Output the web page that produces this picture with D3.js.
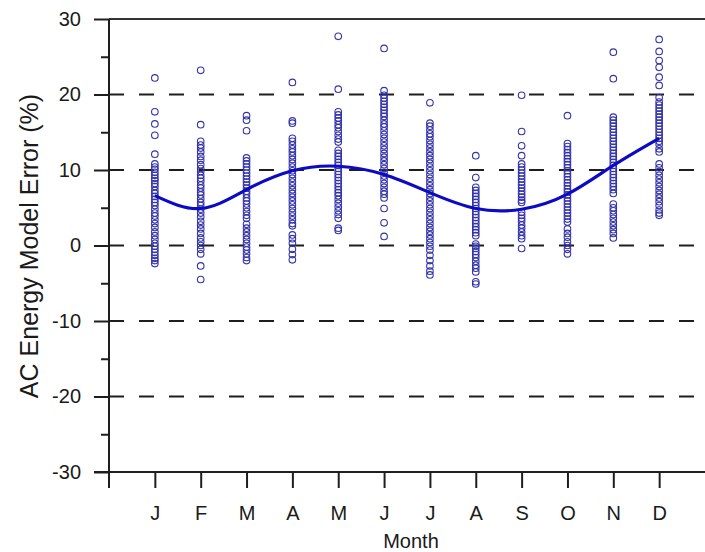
<!DOCTYPE html>
<html>
<head>
<meta charset="utf-8">
<script src="https://cdn.jsdelivr.net/npm/d3@7"></script>
<style>
  html, body { margin: 0; padding: 0; background: #ffffff; }
  svg { display: block; }
  text { font-family: "Liberation Sans", Arial, Helvetica, sans-serif; fill: #1a1a1a; }
</style>
</head>
<body>
<svg id="chart" width="705" height="552"></svg>
<script>
// ---------------- DATA ----------------
const monthLabels = ["J", "F", "M", "A", "M", "J", "J", "A", "S", "O", "N", "D"];
const yTickValues = [-30, -20, -10, 0, 10, 20, 30];
const yMinorTickValues = [-25, -15, -5, 5, 15, 25];
const gridValues = [-20, -10, 0, 10, 20];

const janErrors = [22.2, 17.7, 16.1, 14.6, 12.1, 10.8, 10.4, 10.1, 9.7, 9.3, 8.9, 8.6, 8.2, 7.8, 7.3, 6.9, 6.5, 6.1, 5.7, 5.3, 4.8, 4.3, 3.9, 3.4, 2.9, 2.4, 1.8, 1.3, 0.8, 0.3, -0.1, -0.5, -0.9, -1.3, -1.7, -2.0, -2.4];
const febErrors = [23.2, 16.0, 13.8, 13.3, 12.9, 12.4, 11.8, 11.3, 10.7, 10.2, 9.8, 9.3, 8.9, 8.5, 8.0, 7.6, 7.1, 6.7, 6.2, 5.7, 5.3, 4.8, 4.3, 3.8, 3.2, 2.7, 2.2, 1.6, 1.0, 0.5, 0.0, -0.5, -1.1, -2.7, -4.5];
const marErrors = [17.2, 16.6, 15.2, 11.6, 11.2, 10.8, 10.4, 10.0, 9.6, 9.2, 8.8, 8.4, 8.0, 7.6, 7.2, 6.8, 6.3, 5.9, 5.5, 5.0, 4.5, 4.0, 3.6, 2.8, 2.3, 1.8, 1.3, 0.8, 0.3, -0.2, -0.6, -1.1, -1.6, -2.0];
const aprErrors = [21.6, 16.5, 16.2, 14.2, 13.8, 13.3, 12.8, 12.4, 11.9, 11.4, 10.9, 10.4, 9.9, 9.4, 8.9, 8.4, 7.9, 7.4, 6.9, 6.4, 5.9, 5.4, 4.9, 4.4, 3.9, 3.4, 2.9, 2.6, 1.4, 0.9, 0.3, -0.5, -1.2, -1.9];
const mayErrors = [27.7, 20.7, 17.7, 17.3, 16.9, 16.5, 16.0, 15.6, 15.1, 14.6, 14.1, 13.7, 12.6, 12.2, 11.8, 11.4, 11.0, 10.6, 10.2, 9.8, 9.4, 9.0, 8.6, 8.2, 7.8, 7.4, 7.0, 6.6, 6.1, 5.6, 5.1, 4.6, 4.1, 3.6, 2.3, 2.0];
const junErrors = [26.1, 20.5, 19.9, 19.5, 19.1, 18.7, 18.3, 17.9, 17.5, 17.1, 16.6, 16.1, 15.7, 15.2, 14.7, 14.2, 13.7, 13.2, 12.7, 12.2, 11.7, 11.2, 10.7, 10.2, 9.7, 9.2, 8.7, 8.2, 7.7, 7.2, 6.8, 6.3, 4.9, 3.0, 1.2];
const julErrors = [18.9, 16.2, 15.8, 15.3, 14.8, 14.4, 13.9, 13.4, 12.9, 12.4, 11.9, 11.4, 10.9, 10.4, 9.9, 9.4, 8.9, 8.4, 7.9, 7.4, 6.9, 6.4, 5.9, 5.4, 4.9, 4.4, 3.9, 3.4, 2.9, 2.4, 1.9, 1.4, 0.9, 0.4, -0.1, -0.6, -1.3, -2.0, -2.7, -3.4, -3.9];
const augErrors = [11.9, 9.0, 7.7, 7.3, 6.9, 6.5, 6.1, 5.7, 5.3, 4.9, 4.5, 4.1, 3.7, 3.3, 2.9, 2.5, 2.1, 1.7, 1.3, 0.2, -0.1, -0.4, -0.8, -1.2, -1.6, -2.1, -2.6, -3.0, -3.5, -4.8, -5.1];
const sepErrors = [19.9, 15.1, 13.2, 11.9, 10.8, 10.4, 10.0, 9.6, 9.2, 8.8, 8.4, 8.0, 7.6, 7.2, 6.8, 6.4, 6.0, 5.7, 4.4, 4.0, 3.6, 3.2, 2.7, 2.3, 1.8, 1.3, 0.9, -0.4];
const octErrors = [17.2, 13.5, 13.1, 12.7, 12.3, 11.9, 11.5, 11.1, 10.7, 10.3, 9.9, 9.5, 9.1, 8.7, 8.3, 7.9, 7.5, 7.1, 6.7, 6.3, 5.9, 5.5, 5.1, 4.7, 4.3, 3.9, 3.5, 3.1, 2.2, 1.6, 1.1, 0.5, 0.0, -0.5, -1.1];
const novErrors = [25.6, 22.1, 17.0, 16.6, 16.2, 15.8, 15.4, 15.0, 14.6, 14.2, 13.8, 13.4, 13.0, 12.6, 12.2, 11.8, 11.4, 11.0, 10.6, 10.2, 9.8, 9.4, 9.0, 8.6, 8.2, 7.8, 7.4, 6.9, 5.5, 5.0, 4.6, 4.1, 3.6, 3.1, 2.6, 2.1, 1.6, 1.0];
const decErrors = [27.3, 25.7, 24.5, 23.6, 22.3, 21.2, 19.6, 19.0, 18.6, 18.2, 17.8, 17.4, 17.0, 16.6, 16.2, 15.8, 15.4, 15.0, 14.6, 14.2, 13.8, 13.4, 12.8, 12.4, 10.8, 10.3, 9.8, 9.3, 8.8, 8.3, 7.8, 7.3, 6.8, 6.3, 5.8, 5.3, 4.7, 4.3, 4.0];

const fitValues = [6.6, 4.9, 7.4, 9.9, 10.5, 9.4, 7.0, 4.9, 4.8, 6.8, 10.6, 14.2];

const monthlyErrors = [janErrors, febErrors, marErrors, aprErrors, mayErrors, junErrors,
                       julErrors, augErrors, sepErrors, octErrors, novErrors, decErrors];

// ---------------- LAYOUT ----------------
const svg = d3.select("#chart");
const plotLeft = 109, plotRight = 705, plotTop = 19, plotBottom = 472;

const x = d3.scaleLinear().domain([0, 13]).range([plotLeft, plotRight]);
const y = d3.scaleLinear().domain([-30, 30]).range([plotBottom, plotTop]);

const ink = "#1e1e1e";

// dashed grid lines
svg.append("g").selectAll("line").data(gridValues).join("line")
  .attr("x1", plotLeft).attr("x2", plotRight)
  .attr("y1", d => y(d)).attr("y2", d => y(d))
  .attr("stroke", ink).attr("stroke-width", 2)
  .attr("stroke-dasharray", "15,15");

// top border (solid)
svg.append("line")
  .attr("x1", plotLeft).attr("x2", plotRight)
  .attr("y1", y(30)).attr("y2", y(30))
  .attr("stroke", "#333").attr("stroke-width", 2);

// y axis (left)
const yAxis = d3.axisLeft(y).tickValues(yTickValues).tickSize(15).tickPadding(13)
  .tickFormat(d3.format("d"));
const yg = svg.append("g").attr("transform", `translate(${plotLeft},0)`).call(yAxis);
yg.select(".domain").remove();
yg.selectAll(".tick line").attr("stroke", ink).attr("stroke-width", 2);
yg.selectAll(".tick text").attr("font-size", 20).attr("fill", ink)
  .style("font-family", '"Liberation Sans", Arial, sans-serif')
  .text(d => d < 0 ? "-" + Math.abs(d) : String(d));

const yMinor = d3.axisLeft(y).tickValues(yMinorTickValues).tickSize(8).tickFormat("");
const ymg = svg.append("g").attr("transform", `translate(${plotLeft},0)`).call(yMinor);
ymg.select(".domain").remove();
ymg.selectAll(".tick line").attr("stroke", ink).attr("stroke-width", 2);

// vertical axis line (extends below the x axis)
svg.append("line")
  .attr("x1", plotLeft).attr("x2", plotLeft)
  .attr("y1", plotTop).attr("y2", plotBottom + 16)
  .attr("stroke", ink).attr("stroke-width", 2);

// x axis
const xAxis = d3.axisBottom(x).tickValues(d3.range(1, 13)).tickSize(16).tickPadding(18)
  .tickFormat(d => monthLabels[d - 1]);
const xg = svg.append("g").attr("transform", `translate(0,${plotBottom})`).call(xAxis);
xg.select(".domain").remove();
xg.selectAll(".tick line").attr("stroke", ink).attr("stroke-width", 2);
xg.selectAll(".tick text").attr("font-size", 20).attr("fill", ink)
  .style("font-family", '"Liberation Sans", Arial, sans-serif');

svg.append("line")
  .attr("x1", plotLeft - 15).attr("x2", plotRight)
  .attr("y1", plotBottom).attr("y2", plotBottom)
  .attr("stroke", ink).attr("stroke-width", 2);

// scatter points
const points = [];
monthlyErrors.forEach((arr, i) => arr.forEach(v => points.push({ m: i + 1, v })));
svg.append("g").selectAll("circle").data(points).join("circle")
  .attr("cx", d => x(d.m)).attr("cy", d => y(d.v)).attr("r", 3.3)
  .attr("fill", "none").attr("stroke", "#3434aa").attr("stroke-width", 1.1);

// fitted curve
const line = d3.line().x((d, i) => x(i + 1)).y(d => y(d)).curve(d3.curveNatural);
svg.append("path").datum(fitValues)
  .attr("d", line).attr("fill", "none")
  .attr("stroke", "#0b0bc4").attr("stroke-width", 3.2);

// axis titles
svg.append("text")
  .attr("x", (x(1) + x(12)) / 2 + 4).attr("y", 548)
  .attr("text-anchor", "middle").attr("font-size", 20)
  .text("Month");

svg.append("text")
  .attr("transform", `translate(38,246) rotate(-90)`)
  .attr("text-anchor", "middle").attr("font-size", 25)
  .text("AC Energy Model Error (%)");
</script>
</body>
</html>
